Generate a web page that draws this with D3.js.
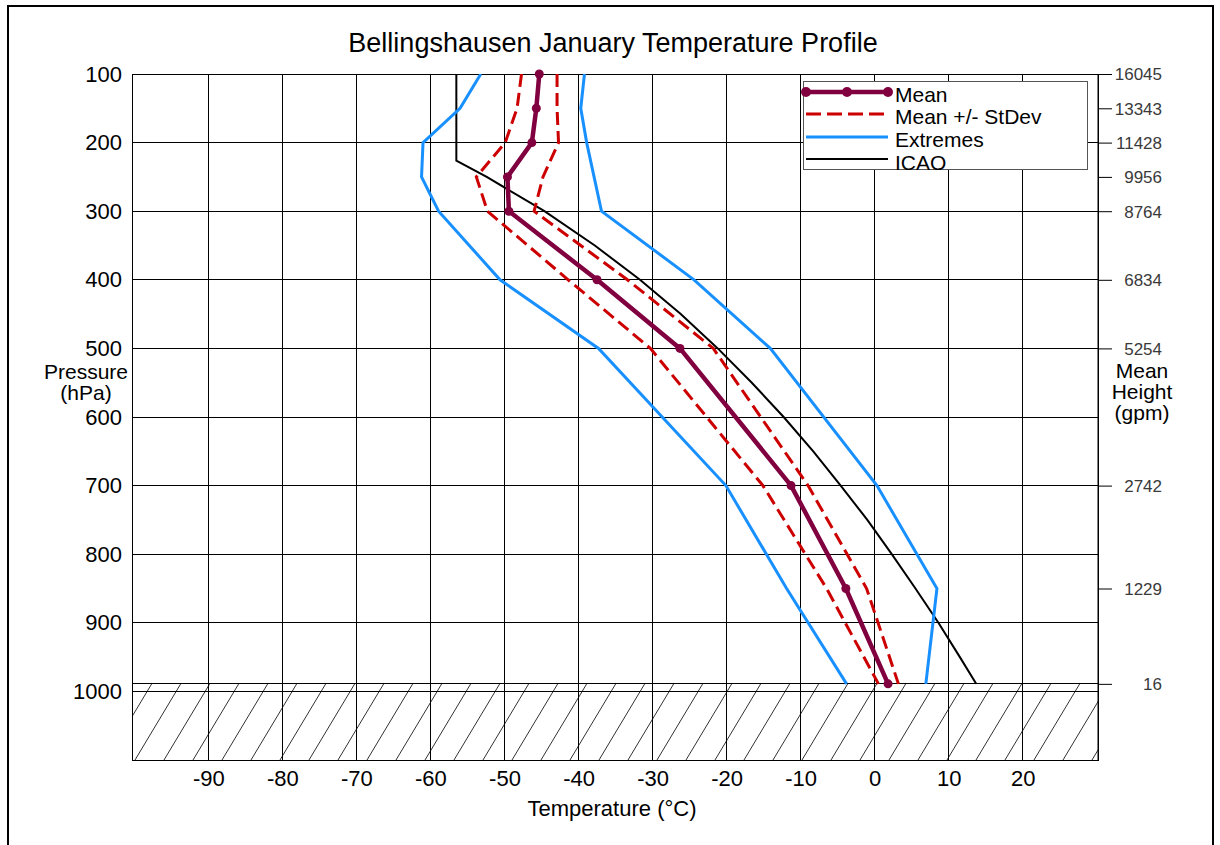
<!DOCTYPE html>
<html>
<head>
<meta charset="utf-8">
<script src="https://cdn.jsdelivr.net/npm/d3@7"></script>
<style>
  html, body { margin: 0; padding: 0; background: #fff; }
  svg { display: block; font-family: "Liberation Sans", Arial, sans-serif; }
</style>
</head>
<body>
<svg id="chart" width="1220" height="845"></svg>
<script>
// ---------------- DATA ----------------
const levels       = [100, 150, 200, 250, 300, 400, 500, 700, 850, 989];
const meanT        = [-45.3, -45.7, -46.3, -49.6, -49.4, -37.5, -26.3, -11.3, -3.9, 1.8];
const meanMinusSd  = [-47.7, -48.3, -49.9, -53.8, -52.3, -41.4, -30.3, -15.1, -6.5, 0.5];
const meanPlusSd   = [-42.9, -42.9, -42.7, -44.8, -46.0, -33.4, -21.8, -9.0, -1.1, 3.2];
const extremeMin   = [-53.2, -56.0, -61.0, -61.2, -58.9, -50.6, -37.3, -20.1, -11.9, -3.8];
const extremeMax   = [-39.2, -39.7, -38.9, -37.9, -36.9, -24.4, -14.1, 0.3, 8.4, 6.9];

const icaoP = [100, 226.3, 250, 300, 350, 400, 450, 500, 550, 600, 650, 700, 750, 800, 850, 900, 950, 989];
const icaoT = [-56.5, -56.5, -52.4, -44.6, -37.8, -31.7, -26.2, -21.2, -16.6, -12.3, -8.3, -4.6, -1.0, 2.3, 5.5, 8.6, 11.5, 13.7];

const surfacePressure = 989;
const pressureTicks = [100, 200, 300, 400, 500, 600, 700, 800, 900, 1000];
const tempTicks = [-90, -80, -70, -60, -50, -40, -30, -20, -10, 0, 10, 20];
const heightLevels = [100, 150, 200, 250, 300, 400, 500, 700, 850, 989];
const heightLabels = ["16045", "13343", "11428", "9956", "8764", "6834", "5254", "2742", "1229", "16"];

const seriesNames = ["Mean", "Mean +/- StDev", "Extremes", "ICAO"];

// ---------------- LAYOUT ----------------
const L = 132, R = 1098, T = 74, B = 760;
const svg = d3.select("#chart");

const x = d3.scaleLinear().domain([-100.3, 30.15]).range([L, R]);
const y = d3.scaleLinear().domain([100, 1100]).range([T, B]);

const C = {
  mean: "#800040",
  sd: "#cc0000",
  ext: "#1890ff",
  icao: "#000000"
};

// outer frame
svg.append("rect").attr("x", 8).attr("y", 6).attr("width", 1205).attr("height", 860)
  .attr("fill", "none").attr("stroke", "#000").attr("stroke-width", 2);

// title
svg.append("text").attr("x", 613).attr("y", 52).attr("text-anchor", "middle")
  .attr("font-size", 27).attr("fill", "#000")
  .text("Bellingshausen January Temperature Profile");

// clip path for plot
svg.append("defs").append("clipPath").attr("id", "plotclip")
  .append("rect").attr("x", L).attr("y", T).attr("width", R - L).attr("height", B - T);

// hatch below surface
const hatch = svg.append("g").attr("clip-path", "url(#plotclip)");
const ySurf = y(surfacePressure);
const hH = B - ySurf;
const hatchStarts = d3.range(L + 3 - 29 * 3, R + 29, 29);
hatch.selectAll("line.h").data(hatchStarts).join("line")
  .attr("x1", d => d).attr("y1", B)
  .attr("x2", d => d + 0.6 * hH).attr("y2", ySurf)
  .attr("stroke", "#333").attr("stroke-width", 1);

// grid
const grid = svg.append("g");
grid.selectAll("line.v").data(tempTicks).join("line")
  .attr("x1", d => x(d)).attr("x2", d => x(d)).attr("y1", T).attr("y2", B)
  .attr("stroke", "#000").attr("stroke-width", 1).attr("shape-rendering", "crispEdges");
grid.selectAll("line.hz").data(pressureTicks).join("line")
  .attr("x1", L).attr("x2", R).attr("y1", d => y(d)).attr("y2", d => y(d))
  .attr("stroke", "#000").attr("stroke-width", 1).attr("shape-rendering", "crispEdges");
grid.append("line").attr("x1", L).attr("x2", R).attr("y1", ySurf).attr("y2", ySurf)
  .attr("stroke", "#000").attr("stroke-width", 1).attr("shape-rendering", "crispEdges");

// frame
svg.append("rect").attr("x", L).attr("y", T).attr("width", R - L).attr("height", B - T)
  .attr("fill", "none").attr("stroke", "#000").attr("stroke-width", 1).attr("shape-rendering", "crispEdges");

// left axis labels
const yAxis = d3.axisLeft(y).tickValues(pressureTicks).tickSize(0).tickPadding(10).tickFormat(d3.format("d"));
const gy = svg.append("g").attr("transform", `translate(${L},0)`).call(yAxis);
gy.select(".domain").remove();
gy.selectAll("text").attr("font-size", 22).attr("font-family", "Liberation Sans, Arial, sans-serif")
  .attr("fill", "#000");

// bottom axis labels
const xAxis = d3.axisBottom(x).tickValues(tempTicks).tickSize(0).tickPadding(10).tickFormat(d3.format("d"));
const gx = svg.append("g").attr("transform", `translate(0,${B})`).call(xAxis);
gx.select(".domain").remove();
gx.selectAll("text").attr("font-size", 22).attr("font-family", "Liberation Sans, Arial, sans-serif")
  .attr("fill", "#000").attr("dy", null).attr("y", 26).text(d => (d < 0 ? "-" + Math.abs(d) : d));

// right axis (heights)
const rAxis = d3.axisRight(y).tickValues(heightLevels).tickSize(14).tickPadding(0)
  .tickFormat((d, i) => heightLabels[i]);
const gr = svg.append("g").attr("transform", `translate(${R},0)`).call(rAxis);
gr.select(".domain").attr("d", `M0,${T}V${B}`).attr("stroke", "#000");
gr.selectAll(".tick line").attr("stroke", "#000");
gr.selectAll("text").attr("font-size", 17).attr("font-family", "Liberation Sans, Arial, sans-serif")
  .attr("fill", "#3a3a3a").attr("text-anchor", "end").attr("x", 64).attr("dy", "0.35em");

// axis titles
svg.append("text").attr("x", 612).attr("y", 816).attr("text-anchor", "middle")
  .attr("font-size", 22).text("Temperature (°C)");
const pt = svg.append("text").attr("text-anchor", "middle").attr("font-size", 21);
pt.append("tspan").attr("x", 86).attr("y", 379).text("Pressure");
pt.append("tspan").attr("x", 86).attr("y", 400).text("(hPa)");
const ht = svg.append("text").attr("text-anchor", "middle").attr("font-size", 21);
ht.append("tspan").attr("x", 1142).attr("y", 378).text("Mean");
ht.append("tspan").attr("x", 1142).attr("y", 399).text("Height");
ht.append("tspan").attr("x", 1142).attr("y", 420).text("(gpm)");

// lines
const line = d3.line().x(d => x(d[0])).y(d => y(d[1]));
const zipT = arr => arr.map((t, i) => [t, levels[i]]);
const plot = svg.append("g").attr("clip-path", "url(#plotclip)");

plot.append("path").datum(icaoT.map((t, i) => [t, icaoP[i]])).attr("d", line)
  .attr("fill", "none").attr("stroke", C.icao).attr("stroke-width", 2);
plot.append("path").datum(zipT(extremeMin)).attr("d", line)
  .attr("fill", "none").attr("stroke", C.ext).attr("stroke-width", 3);
plot.append("path").datum(zipT(extremeMax)).attr("d", line)
  .attr("fill", "none").attr("stroke", C.ext).attr("stroke-width", 3);
plot.append("path").datum(zipT(meanMinusSd)).attr("d", line)
  .attr("fill", "none").attr("stroke", C.sd).attr("stroke-width", 3).attr("stroke-dasharray", "13,6");
plot.append("path").datum(zipT(meanPlusSd)).attr("d", line)
  .attr("fill", "none").attr("stroke", C.sd).attr("stroke-width", 3).attr("stroke-dasharray", "13,6");
plot.append("path").datum(zipT(meanT)).attr("d", line)
  .attr("fill", "none").attr("stroke", C.mean).attr("stroke-width", 4.5).attr("stroke-linejoin", "round");
svg.append("g").selectAll("circle").data(zipT(meanT)).join("circle")
  .attr("cx", d => x(d[0])).attr("cy", d => y(d[1])).attr("r", 4.5).attr("fill", C.mean);

// legend
const lg = svg.append("g");
lg.append("rect").attr("x", 803.5).attr("y", 81.5).attr("width", 284).attr("height", 88)
  .attr("fill", "#fff").attr("stroke", "#555").attr("stroke-width", 1);
const legRows = [
  { name: seriesNames[0], ly: 92, ty: 102, color: C.mean, w: 4.5, dash: null, markers: true },
  { name: seriesNames[1], ly: 114, ty: 124, color: C.sd, w: 3, dash: "15,6", markers: false },
  { name: seriesNames[2], ly: 137, ty: 147, color: C.ext, w: 3, dash: null, markers: false },
  { name: seriesNames[3], ly: 159, ty: 170, color: C.icao, w: 2, dash: null, markers: false }
];
legRows.forEach(r => {
  lg.append("line").attr("x1", 806).attr("x2", 888).attr("y1", r.ly).attr("y2", r.ly)
    .attr("stroke", r.color).attr("stroke-width", r.w).attr("stroke-dasharray", r.dash);
  if (r.markers) {
    [806, 847, 888].forEach(cx => lg.append("circle").attr("cx", cx).attr("cy", r.ly).attr("r", 5).attr("fill", r.color));
  }
  lg.append("text").attr("x", 895).attr("y", r.ty).attr("font-size", 21).attr("fill", "#000").text(r.name);
});
</script>
</body>
</html>
